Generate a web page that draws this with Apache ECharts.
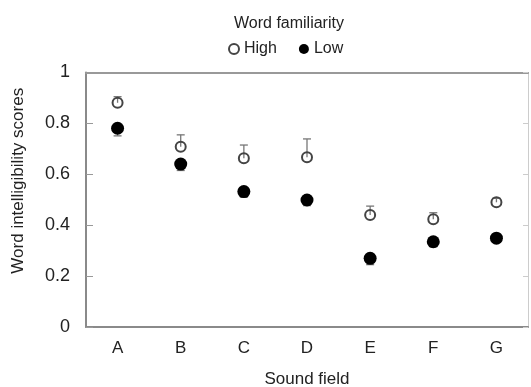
<!DOCTYPE html>
<html>
<head>
<meta charset="utf-8">
<script src="https://cdn.jsdelivr.net/npm/echarts@6/dist/echarts.min.js"></script>
<style>html,body{margin:0;padding:0;background:#fff;}#c{width:531px;height:387px;}</style>
</head>
<body>
<div id="c"></div>
<script>
var categories = ['A', 'B', 'C', 'D', 'E', 'F', 'G'];
var highValues = [0.881, 0.708, 0.663, 0.667, 0.440, 0.423, 0.490];
var highErr = [0.024, 0.047, 0.052, 0.072, 0.035, 0.026, 0.016];
var lowValues = [0.781, 0.640, 0.532, 0.499, 0.270, 0.335, 0.349];
var lowErr = [0.030, 0.025, 0.022, 0.022, 0.025, 0.020, 0.016];
var yTicks = [0, 0.2, 0.4, 0.6, 0.8, 1];

var FONT = 'Liberation Sans, Arial, sans-serif';

function errData(vals, errs, dir) {
  return vals.map(function (v, i) { return [i, v, v + dir * errs[i]]; });
}
function errRender(params, api) {
  var x = api.value(0);
  var p0 = api.coord([x, api.value(1)]);
  var p1 = api.coord([x, api.value(2)]);
  var hw = 4;
  var st = { stroke: '#777', lineWidth: 1.3 };
  return {
    type: 'group',
    children: [
      { type: 'line', shape: { x1: p0[0], y1: p0[1], x2: p1[0], y2: p1[1] }, style: st },
      { type: 'line', shape: { x1: p1[0] - hw, y1: p1[1], x2: p1[0] + hw, y2: p1[1] }, style: st }
    ]
  };
}

var chart = echarts.init(document.getElementById('c'), null, { renderer: 'canvas' });
chart.setOption({
  animation: false,
  textStyle: { fontFamily: FONT },
  title: {
    text: 'Word familiarity',
    left: 229, top: 11,
    textStyle: { fontFamily: FONT, fontSize: 16, fontWeight: 'normal', color: '#222' }
  },
  legend: {
    left: 223, top: 36,
    itemWidth: 10, itemHeight: 10, itemGap: 22,
    textStyle: { fontFamily: FONT, fontSize: 16, color: '#222' },
    data: [
      { name: 'High', icon: 'circle' },
      { name: 'Low', icon: 'circle' }
    ]
  },
  grid: { left: 86, right: 3, top: 72.5, bottom: 60, outerBoundsMode: 'none', containLabel: false },
  xAxis: [{
    type: 'category',
    data: categories,
    position: 'bottom',
    axisLine: { show: true, lineStyle: { color: '#8a8a8a', width: 2 } },
    axisTick: { show: false },
    axisLabel: { fontFamily: FONT, fontSize: 17, color: '#222', margin: 13 },
    name: 'Sound field',
    nameLocation: 'middle',
    nameGap: 44,
    nameTextStyle: { fontFamily: FONT, fontSize: 17, color: '#222' }
  }, {
    type: 'category',
    data: categories,
    position: 'top',
    axisLine: { show: true, onZero: false, lineStyle: { color: '#999', width: 2 } },
    axisTick: { show: false },
    axisLabel: { show: false }
  }],
  yAxis: [{
    type: 'value',
    min: 0, max: 1, interval: 0.2,
    position: 'left',
    axisLine: { show: true, lineStyle: { color: '#8a8a8a', width: 2 } },
    axisTick: { show: true, inside: true, length: 7, lineStyle: { color: '#999' } },
    splitLine: { show: false },
    axisLabel: {
      fontFamily: FONT, fontSize: 18, color: '#222', margin: 16,
      formatter: function (v) { return yTicks.indexOf(Math.round(v * 10) / 10) >= 0 ? String(Math.round(v * 10) / 10) : ''; }
    },
    name: 'Word intelligibility scores',
    nameLocation: 'middle',
    nameGap: 59,
    nameTextStyle: { fontFamily: FONT, fontSize: 17, color: '#222', padding: [0, 0, 0, 38] }
  }, {
    type: 'value',
    min: 0, max: 1, interval: 0.2,
    position: 'right',
    axisLine: { show: true, onZero: false, lineStyle: { color: '#ccc', width: 1 } },
    axisTick: { show: true, inside: true, length: 5, lineStyle: { color: '#ccc' } },
    splitLine: { show: false },
    axisLabel: { show: false }
  }],
  series: [
    {
      name: 'HighErr', type: 'custom', renderItem: errRender, z: 1,
      data: errData(highValues, highErr, 1), encode: { x: 0, y: [1, 2] }, silent: true
    },
    {
      name: 'LowErr', type: 'custom', renderItem: errRender, z: 1,
      data: errData(lowValues, lowErr, -1), encode: { x: 0, y: [1, 2] }, silent: true
    },
    {
      name: 'High', type: 'scatter', data: highValues, symbol: 'circle', symbolSize: 10, z: 3,
      itemStyle: { color: 'rgba(255,255,255,0)', borderColor: '#444', borderWidth: 2, opacity: 1 }
    },
    {
      name: 'Low', type: 'scatter', data: lowValues, symbol: 'circle', symbolSize: 13, z: 3,
      itemStyle: { color: '#000', opacity: 1 }
    }
  ]
});
</script>
</body>
</html>
